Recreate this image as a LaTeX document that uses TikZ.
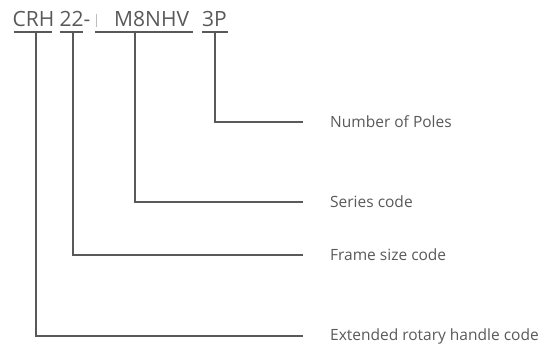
\documentclass[tikz,border=0pt]{standalone}
\usepackage{fontspec}
\setmainfont{Open Sans}
\definecolor{ink}{HTML}{595959}
\begin{document}
\begin{tikzpicture}[x=1pt,y=-1pt,
  codetxt/.style={inner sep=0pt,anchor=base west,text=ink,font=\fontsize{21}{25}\selectfont},
  lbl/.style={inner sep=0pt,anchor=west,text=ink,font=\fontsize{15.5}{18}\selectfont},
  uline/.style={draw=ink,line width=1.1pt},
  conn/.style={draw=ink,line width=1.4pt,shorten >=27pt}]
\useasboundingbox (0,0) rectangle (554,348);
% code pieces
\node[codetxt] (crh) at (12.5,27) {CRH};
\node[codetxt] (n22) at (59.5,27) {22-};
\node[codetxt] (m8) at (114,27) {M8NHV};
\node[codetxt] (p3) at (202,27) {3P};
\draw[draw=ink!40,line width=0.6pt] (96.5,14) -- (96.5,27);
% underlines
\coordinate (ucrh) at (36,32);
\coordinate (u22) at (73,32);
\coordinate (um8) at (135,32);
\coordinate (up3) at (215,32);
\draw[uline] (14,32) -- (52,32);
\draw[uline] (60,32) -- (83,32);
\draw[uline] (95,32) -- (193,32);
\draw[uline] (202,32) -- (228,32);
% labels
\node[lbl] (poles) at (330,122) {Number of Poles};
\node[lbl] (series) at (330,202) {Series code};
\node[lbl] (frame) at (330,255) {Frame size code};
\node[lbl] (ext) at (330,336) {Extended rotary handle code};
% connectors
\draw[conn] (up3) |- (poles.west);
\draw[conn] (um8) |- (series.west);
\draw[conn] (u22) |- (frame.west);
\draw[conn] (ucrh) |- (ext.west);
\end{tikzpicture}
\end{document}
